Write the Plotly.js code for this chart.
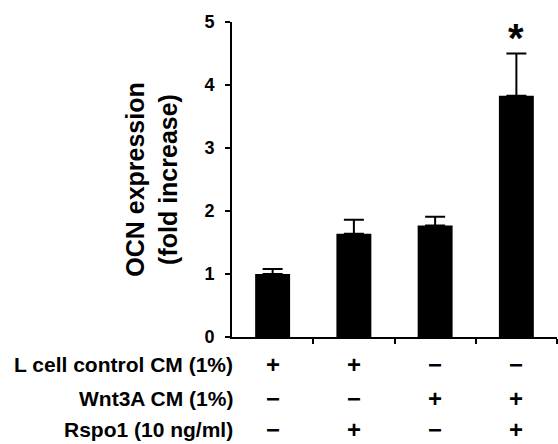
<!DOCTYPE html>
<html>
<head>
<meta charset="utf-8">
<script src="https://cdn.plot.ly/plotly-3.0.1.min.js"></script>
<style>html,body{margin:0;padding:0;background:#fff;}#chart{width:558px;height:444px;}</style>
</head>
<body>
<div id="chart"></div>
<script>
// ---- data ----
const groups = ["L cell CM", "L cell CM + Rspo1", "Wnt3A CM", "Wnt3A CM + Rspo1"];
const ocnFold = [1.00, 1.64, 1.77, 3.83];
const ocnErrUp = [0.08, 0.22, 0.14, 0.67];
const significance = ["", "", "", "*"];
const yTicks = [0, 1, 2, 3, 4, 5];
const rowLabels = ["L cell control CM (1%)", "Wnt3A CM (1%)", "Rspo1 (10 ng/ml)"];
const lcellSigns = ["+", "+", "−", "−"];
const wnt3aSigns = ["−", "−", "+", "+"];
const rspo1Signs = ["−", "+", "−", "+"];
const signRows = [lcellSigns, wnt3aSigns, rspo1Signs];

// ---- layout helpers ----
const FONT = "Liberation Sans, Arial, Helvetica, sans-serif";
const xs = groups.map((g, i) => i);
const rowShift = [-27, -61, -92];

const annotations = [];
rowLabels.forEach((lab, r) => {
  annotations.push({
    xref: "paper", yref: "paper", x: 0, y: 0, xanchor: "right", yanchor: "middle",
    xshift: 3, yshift: rowShift[r], showarrow: false, text: lab,
    font: {family: FONT, size: 21, color: "#000", weight: "bold"}
  });
  signRows[r].forEach((s, i) => {
    annotations.push({
      xref: "x", yref: "paper", x: xs[i], y: 0, xanchor: "center", yanchor: "middle",
      yshift: rowShift[r], showarrow: false, text: s,
      font: {family: FONT, size: 24, color: "#000", weight: "bold"}
    });
  });
});
significance.forEach((s, i) => {
  if (!s) return;
  annotations.push({
    xref: "x", yref: "y", x: xs[i], y: ocnFold[i] + ocnErrUp[i], xanchor: "center", yanchor: "bottom",
    yshift: -8, showarrow: false, text: s,
    font: {family: FONT, size: 40, color: "#000", weight: "bold"}
  });
});

const trace = {
  type: "bar",
  x: xs,
  y: ocnFold,
  hovertext: groups,
  width: 0.43,
  marker: {color: "#000", line: {width: 0}},
  error_y: {
    type: "data", symmetric: false, array: ocnErrUp, arrayminus: ocnFold.map(() => 0),
    color: "#000", thickness: 2, width: 10
  }
};

const layout = {
  width: 558, height: 444,
  margin: {l: 232, r: 1, t: 22, b: 107},
  paper_bgcolor: "#fff", plot_bgcolor: "#fff",
  showlegend: false,
  font: {family: FONT, color: "#000"},
  xaxis: {
    range: [-0.5, 3.5],
    tickmode: "array", tickvals: [0.5, 1.5, 2.5, 3.5], ticktext: ["", "", "", ""],
    ticks: "outside", ticklen: 5, tickwidth: 2, tickcolor: "#000",
    showline: true, linecolor: "#000", linewidth: 2,
    showgrid: false, zeroline: false, fixedrange: true
  },
  yaxis: {
    range: [0, 5],
    tickmode: "array", tickvals: yTicks, ticktext: yTicks.map(String),
    ticks: "outside", ticklen: 5, tickwidth: 2, tickcolor: "#000",
    ticklabelstandoff: 7,
    tickfont: {family: FONT, size: 18, color: "#000", weight: "bold"},
    showline: true, linecolor: "#000", linewidth: 2,
    showgrid: false, zeroline: false, fixedrange: true,
    title: {
      text: "OCN expression<br>(fold increase)",
      font: {family: FONT, size: 25, color: "#000", weight: "bold"},
      standoff: 20
    }
  },
  annotations: annotations
};

Plotly.newPlot("chart", [trace], layout, {displayModeBar: false, staticPlot: true});
</script>
</body>
</html>
